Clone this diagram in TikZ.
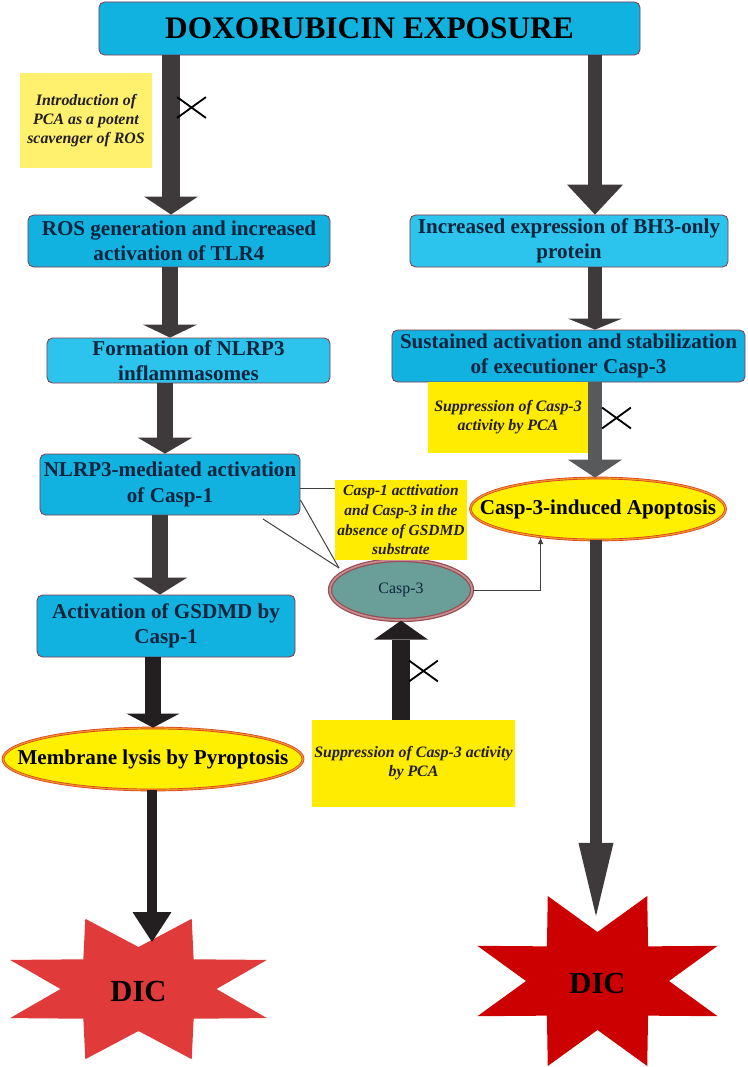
\documentclass[tikz,border=0pt]{standalone}
\usepackage{fontspec}
\setmainfont{Liberation Serif}
\usetikzlibrary{arrows.meta,shapes.geometric,shapes.misc}
\definecolor{boxcyan}{RGB}{18,178,224}
\definecolor{boxlight}{RGB}{44,196,236}
\definecolor{boxedge}{RGB}{130,60,75}
\definecolor{boxtext}{RGB}{12,36,62}
\definecolor{noteyellow}{RGB}{255,236,0}
\definecolor{notelight}{RGB}{255,240,110}
\definecolor{notetext}{RGB}{35,31,32}
\definecolor{ovalyellow}{RGB}{255,240,0}
\definecolor{ovalred}{RGB}{215,60,30}
\definecolor{ovalorange}{RGB}{240,150,40}
\definecolor{caspteal}{RGB}{106,158,152}
\definecolor{caspedge}{RGB}{150,80,85}
\definecolor{caspinner}{RGB}{200,140,145}
\definecolor{shaftgray}{RGB}{62,57,58}
\definecolor{shaftdark}{RGB}{35,31,32}
\definecolor{shaftmid}{RGB}{88,89,91}
\definecolor{linegray}{RGB}{64,64,64}
\definecolor{dicleft}{RGB}{224,58,58}
\definecolor{dicright}{RGB}{204,0,0}
\begin{document}
\begin{tikzpicture}[x=0.025cm,y=-0.025cm,
    box/.style={draw=boxedge,line width=0.6pt,fill=boxcyan,rounded corners=4pt,align=center,text=boxtext,inner sep=0pt,font=\fontsize{15}{18}\selectfont\bfseries},
    note/.style={fill=noteyellow,align=center,inner sep=0pt,text=notetext,font=\fontsize{11.3}{13.6}\selectfont\bfseries\itshape},
    endpoint/.style={ellipse,draw=ovalred,line width=0.5pt,double=ovalorange,double distance=0.9pt,fill=ovalyellow,inner sep=0pt,font=\fontsize{15}{18}\selectfont\bfseries},
    fat/.style n args={3}{draw=shaftgray,line width=#1,-{Triangle[width=#2,length=#3,line width=0pt]}},
    link/.style={draw=linegray,line width=0.7pt},
    crossx/.style={cross out,draw=black,line width=1.3pt,inner sep=0pt,minimum width=0.675cm,minimum height=0.475cm},
    dic/.style={font=\fontsize{21.8}{24}\selectfont\bfseries}]
    \useasboundingbox (0,0) rectangle (748,1067);

    \fill[dicleft] (138.5,989) +(0:78 and 42) \foreach \k in {0,...,7} {
        -- +(22.5+45*\k:139 and 76) -- +(45+45*\k:78 and 42)} -- cycle;
    \fill[dicright] (597.5,981) +(0:71.5 and 49) \foreach \k in {0,...,7} {
        -- +(22.5+45*\k:130 and 92) -- +(45+45*\k:71.5 and 49)} -- cycle;

    \node[box, text=black, font=\fontsize{22.3}{26}\selectfont\bfseries, minimum width=13.525cm, minimum height=1.325cm] at (369.5,28.5) (dox) {DOXORUBICIN EXPOSURE};
    \node[box, minimum width=7.55cm, minimum height=1.3cm] at (179,241) (ros) {ROS generation and increased\\activation of TLR4};
    \node[box, fill=boxlight, minimum width=7.075cm, minimum height=1.125cm] at (188.5,360.5) (form) {Formation of NLRP3\\inflammasomes};
    \node[box, minimum width=6.5cm, minimum height=1.525cm] at (170,484.5) (casp1act) {NLRP3-mediated activation\\of Casp-1};
    \node[box, minimum width=6.45cm, minimum height=1.55cm] at (166,626) (gsdmd) {Activation of GSDMD by\\Casp-1};
    \node[endpoint, minimum width=7.5cm, minimum height=1.55cm] at (153,759) (lysis) {\makebox[0pt]{Membrane lysis by Pyroptosis}};
    \node[box, fill=boxlight, minimum width=7.95cm, minimum height=1.3cm] at (569,241) (bh3) {Increased expression of BH3-only\\protein};
    \node[box, minimum width=8.825cm, minimum height=1.3cm] at (568.5,356) (exec) {Sustained activation and stabilization\\of executioner Casp-3};
    \node[endpoint, minimum width=6.375cm, minimum height=1.55cm] at (598,509) (apop) {\makebox[0pt]{Casp-3-induced Apoptosis}};
    \node[ellipse, draw=caspedge, line width=0.9pt, double=caspinner, double distance=1.2pt, fill=caspteal, text=boxtext, inner sep=0pt, font=\fontsize{11.3}{13}\selectfont, minimum width=3.55cm, minimum height=1.5cm] at (401,590) (casp3) {Casp-3};

    \node[note, fill=notelight, minimum width=3.3cm, minimum height=2.375cm] at (86,120.5) (pcanote) {Introduction of\\PCA as a potent\\scavenger of ROS};
    \node[note, minimum width=4cm, minimum height=1.775cm] at (508,417.5) (suppnote) {Suppression of Casp-3\\activity by PCA};
    \node[note, font=\fontsize{11}{14}\selectfont\bfseries\itshape, minimum width=3.3cm, minimum height=2cm] at (401,520) (pyronote) {Casp-1 acttivation\\and Casp-3 in the\\absence of GSDMD\\substrate};
    \node[note, minimum width=5.075cm, minimum height=2.175cm] at (413.5,763.5) (blocknote) {Suppression of Casp-3 activity\\by PCA};

    \node[dic] at (138.5,991) (dicl) {DIC};
    \node[dic] at (597.5,983) (dicr) {DIC};
    \coordinate (dicltop) at (152,942);
    \coordinate (dicrtop) at (596,916);
    \coordinate (jn) at (339,568);
    \coordinate (jfree) at (263,519);

    \path (dox.south -| 171,0) edge[fat={12.1pt}{38.4pt}{12.8pt}] (ros.north -| 171,0)
        (ros.south -| 170,0) edge[fat={12pt}{38.4pt}{9.2pt}] (form.north -| 170,0)
        (form.south -| 165,0) edge[fat={11.5pt}{39pt}{11.4pt}] (casp1act.north -| 165,0)
        (casp1act.south -| 160,0) edge[fat={10.7pt}{38.4pt}{12pt}] (gsdmd.north -| 160,0)
        (gsdmd.south -| 153,0) edge[fat={12pt}{37.7pt}{10pt}, draw=shaftdark] (lysis.north -| 153,0)
        (lysis.south -| 152,0) edge[fat={7.8pt}{27.7pt}{21.3pt}, draw=shaftdark] (dicltop)
        (dox.south -| 595,0) edge[fat={10pt}{39.8pt}{21.3pt}] (bh3.north -| 595,0)
        (bh3.south -| 595,0) edge[fat={10pt}{38.4pt}{7.8pt}] (exec.north -| 595,0)
        (exec.south -| 595,0) edge[fat={10pt}{38.4pt}{12.8pt}, draw=shaftmid] (apop.north -| 595,0)
        (apop.south -| 596,0) edge[fat={8.5pt}{24.9pt}{52pt}] (dicrtop)
        (blocknote.north -| 401,0) edge[fat={12.8pt}{38.4pt}{13.5pt}, draw=shaftdark] (casp3.south);

    \draw[link] (casp1act.east |- 0,488) -- (pyronote.west |- 0,488);
    \draw[link] (casp1act.east |- 0,500) -- (jn);
    \draw[link] (jfree) -- (jn);
    \draw[link, -{Latex[length=5pt,width=4pt]}] (casp3.east) -| (apop.206);

    \node[crossx] at (191.5,107.5) (xpca) {};
    \node[crossx] at (616.5,418) (xsupp) {};
    \node[crossx] at (423.5,671) (xblock) {};
\end{tikzpicture}
\end{document}
